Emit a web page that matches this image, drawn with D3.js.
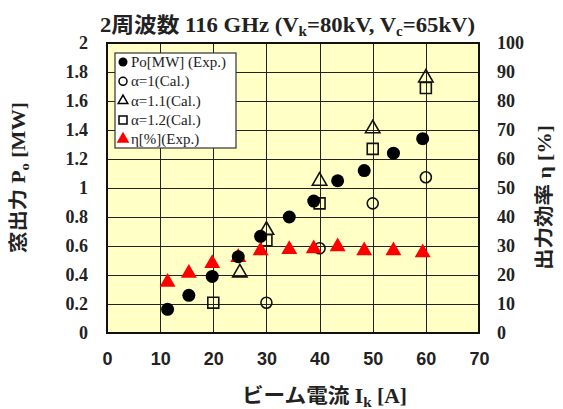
<!DOCTYPE html>
<html>
<head>
<meta charset="utf-8">
<script src="https://cdn.jsdelivr.net/npm/d3@7"></script>
<style>
  html, body { margin: 0; padding: 0; background: #fff; }
  svg { display: block; }
  .serif { font-family: "Liberation Serif", "Noto Sans CJK JP", serif; font-weight: bold; }
  .sans { font-family: "Liberation Sans", Arial, sans-serif; font-weight: bold; }
</style>
</head>
<body>
<svg id="chart" width="563" height="409"></svg>
<script>
// Beam current [A] for the measured points
const expCurrent = [11.4, 15.4, 19.8, 24.7, 28.9, 34.3, 38.9, 43.4, 48.4, 53.9, 59.4];
// Measured output power Po [MW]
const expPower = [0.163, 0.26, 0.39, 0.526, 0.667, 0.80, 0.91, 1.05, 1.12, 1.24, 1.34];
// Measured efficiency η [%]
const expEff = [17.5, 20.6, 24.0, 26.1, 28.4, 28.8, 29.1, 29.8, 28.4, 28.4, 27.7];

// Calculated output power for α = 1, 1.1, 1.2
const calA10Current = [30, 40, 50, 60];
const calA10Power = [0.209, 0.584, 0.894, 1.074];
const calA11Current = [25, 30, 40, 50, 60];
const calA11Power = [0.416, 0.71, 1.048, 1.41, 1.76];
const calA12Current = [20, 30, 40, 50, 60];
const calA12Power = [0.209, 0.64, 0.894, 1.27, 1.69];

const xTicks = [0, 10, 20, 30, 40, 50, 60, 70];
const yTicks = [0, 0.2, 0.4, 0.6, 0.8, 1, 1.2, 1.4, 1.6, 1.8, 2];
const y2Ticks = [0, 10, 20, 30, 40, 50, 60, 70, 80, 90, 100];

const legendLabels = ["Po[MW] (Exp.)", "\u03b1=1(Cal.)", "\u03b1=1.1(Cal.)", "\u03b1=1.2(Cal.)", "\u03b7[%](Exp.)"];

const svg = d3.select("#chart");
const plot = { left: 107, right: 479, top: 43, bottom: 333 };

const x = d3.scaleLinear().domain([0, 70]).range([plot.left, plot.right]);
const y = d3.scaleLinear().domain([0, 2]).range([plot.bottom, plot.top]);
const y2 = d3.scaleLinear().domain([0, 100]).range([plot.bottom, plot.top]);

// plot background
svg.append("rect")
  .attr("x", plot.left).attr("y", plot.top)
  .attr("width", plot.right - plot.left).attr("height", plot.bottom - plot.top)
  .attr("fill", "#ffffc6");

// grid
const grid = svg.append("g").attr("stroke", "#222").attr("stroke-width", 1);
grid.selectAll("line.v").data(xTicks.slice(1, -1)).join("line")
  .attr("x1", d => Math.round(x(d)) + 0.5).attr("x2", d => Math.round(x(d)) + 0.5)
  .attr("y1", plot.top).attr("y2", plot.bottom);
grid.selectAll("line.h").data(yTicks.slice(1, -1)).join("line")
  .attr("y1", d => Math.round(y(d)) + 0.5).attr("y2", d => Math.round(y(d)) + 0.5)
  .attr("x1", plot.left).attr("x2", plot.right);

// frame
svg.append("rect")
  .attr("x", plot.left).attr("y", plot.top)
  .attr("width", plot.right - plot.left).attr("height", plot.bottom - plot.top)
  .attr("fill", "none").attr("stroke", "#111").attr("stroke-width", 2);

// axes (labels only, the frame and grid carry the lines)
const xAxis = d3.axisBottom(x).tickValues(xTicks).tickSize(0).tickPadding(0).tickFormat(d3.format("d"));
svg.append("g").attr("transform", `translate(0,${plot.bottom + 19})`).call(xAxis)
  .call(g => g.select(".domain").remove())
  .selectAll("text").attr("class", "sans").attr("font-size", 18).attr("fill", "#222").attr("dy", "0.71em");

const yAxis = d3.axisLeft(y).tickValues(yTicks).tickSize(0).tickPadding(0)
  .tickFormat(d => d3.format("")(+d.toFixed(1)));
svg.append("g").attr("transform", `translate(${plot.left - 19},0)`).call(yAxis)
  .call(g => g.select(".domain").remove())
  .selectAll("text").attr("class", "serif").attr("font-size", 18).attr("fill", "#222");

const y2Axis = d3.axisRight(y2).tickValues(y2Ticks).tickSize(0).tickPadding(0).tickFormat(d3.format("d"));
svg.append("g").attr("transform", `translate(${plot.right + 18},0)`).call(y2Axis)
  .call(g => g.select(".domain").remove())
  .selectAll("text").attr("class", "serif").attr("font-size", 18).attr("fill", "#222");

// markers
const sym = (type, size) => d3.symbol().type(type).size(size)();

const marks = svg.append("g");
// α=1.2 squares
marks.selectAll("path.a12").data(calA12Current.map((c, i) => [c, calA12Power[i]])).join("path")
  .attr("d", sym(d3.symbolSquare, 120))
  .attr("transform", d => `translate(${x(d[0])},${y(d[1])})`)
  .attr("fill", "none").attr("stroke", "#111").attr("stroke-width", 1.6);
// α=1.1 triangles
marks.selectAll("path.a11").data(calA11Current.map((c, i) => [c, calA11Power[i]])).join("path")
  .attr("d", sym(d3.symbolTriangle, 90))
  .attr("transform", d => `translate(${x(d[0])},${y(d[1])})`)
  .attr("fill", "none").attr("stroke", "#111").attr("stroke-width", 1.6);
// α=1 circles
marks.selectAll("circle.a10").data(calA10Current.map((c, i) => [c, calA10Power[i]])).join("circle")
  .attr("cx", d => x(d[0])).attr("cy", d => y(d[1])).attr("r", 5.5)
  .attr("fill", "none").attr("stroke", "#111").attr("stroke-width", 1.6);
// measured efficiency, red triangles
marks.selectAll("path.eff").data(expCurrent.map((c, i) => [c, expEff[i]])).join("path")
  .attr("d", sym(d3.symbolTriangle, 110))
  .attr("transform", d => `translate(${x(d[0])},${y2(d[1])})`)
  .attr("fill", "#f00");
// measured power, black discs
marks.selectAll("circle.exp").data(expCurrent.map((c, i) => [c, expPower[i]])).join("circle")
  .attr("cx", d => x(d[0])).attr("cy", d => y(d[1])).attr("r", 6.5)
  .attr("fill", "#000");

// legend
const lg = svg.append("g").attr("transform", "translate(115,53)");
lg.append("rect").attr("width", 121).attr("height", 95)
  .attr("fill", "#fff").attr("stroke", "#333").attr("stroke-width", 1.2);
const rowY = i => 9 + i * 19.3;
const lmx = 8;
lg.append("circle").attr("cx", lmx).attr("cy", rowY(0)).attr("r", 4.5).attr("fill", "#000");
lg.append("circle").attr("cx", lmx).attr("cy", rowY(1)).attr("r", 4).attr("fill", "none").attr("stroke", "#000").attr("stroke-width", 1.5);
lg.append("path").attr("d", sym(d3.symbolTriangle, 40)).attr("transform", `translate(${lmx},${rowY(2)})`)
  .attr("fill", "none").attr("stroke", "#000").attr("stroke-width", 1.5);
lg.append("path").attr("d", sym(d3.symbolSquare, 64)).attr("transform", `translate(${lmx},${rowY(3)})`)
  .attr("fill", "none").attr("stroke", "#000").attr("stroke-width", 1.5);
lg.append("path").attr("d", sym(d3.symbolTriangle, 70)).attr("transform", `translate(${lmx},${rowY(4)})`)
  .attr("fill", "#f00");
lg.selectAll("text").data(legendLabels).join("text")
  .attr("x", 16).attr("y", (d, i) => rowY(i) + 5)
  .attr("font-family", "'Liberation Serif', serif").attr("font-size", 15).attr("fill", "#222")
  .text(d => d);

// title
const title = svg.append("text").attr("class", "serif").attr("x", 100).attr("y", 32)
  .attr("font-size", 21).attr("fill", "#222")
  .attr("textLength", 375).attr("lengthAdjust", "spacingAndGlyphs");
title.append("tspan").text("2\u5468\u6ce2\u6570 116 GHz  (V");
title.append("tspan").attr("font-size", 14).attr("dy", 4).text("k");
title.append("tspan").attr("dy", -4).text("=80kV, V");
title.append("tspan").attr("font-size", 14).attr("dy", 4).text("c");
title.append("tspan").attr("dy", -4).text("=65kV)");

// x axis title
const xt = svg.append("text").attr("class", "serif").attr("x", 242).attr("y", 403)
  .attr("font-size", 20).attr("fill", "#222")
  .attr("textLength", 165).attr("lengthAdjust", "spacingAndGlyphs");
xt.append("tspan").text("\u30d3\u30fc\u30e0\u96fb\u6d41 I");
xt.append("tspan").attr("font-size", 14).attr("dy", 4).text("k");
xt.append("tspan").attr("dy", -4).text(" [A]");

// left y axis title
const yt = svg.append("text").attr("class", "serif")
  .attr("transform", "translate(25,253) rotate(-90)")
  .attr("font-size", 19).attr("fill", "#222")
  .attr("textLength", 151).attr("lengthAdjust", "spacingAndGlyphs");
yt.append("tspan").text("\u7a93\u51fa\u529b P");
yt.append("tspan").attr("font-size", 13).attr("dy", 4).text("o");
yt.append("tspan").attr("dy", -4).text(" [MW]");

// right y axis title
svg.append("text").attr("class", "serif")
  .attr("transform", "translate(551,270) rotate(-90)")
  .attr("font-size", 19).attr("fill", "#222")
  .attr("textLength", 145).attr("lengthAdjust", "spacingAndGlyphs")
  .text("\u51fa\u529b\u52b9\u7387 \u03b7 [%]");
</script>
</body>
</html>
